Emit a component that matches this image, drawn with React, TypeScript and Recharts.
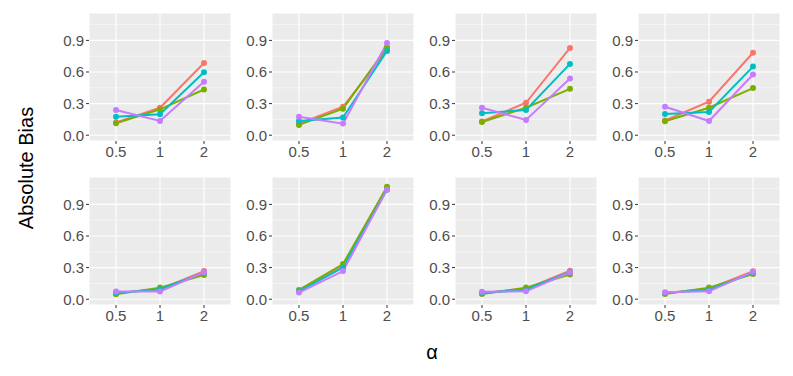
import { LineChart, Line, XAxis, YAxis, CartesianGrid, ReferenceLine } from 'recharts'

const ALPHAS = ['0.5', '1', '2']

// one row of three values (alpha = 0.5, 1, 2) per panel, panels left-to-right, top-to-bottom
const redVals = [
  [0.12, 0.26, 0.686],
  [0.11, 0.27, 0.806],
  [0.13, 0.308, 0.828],
  [0.14, 0.318, 0.783],
  [0.06, 0.095, 0.267],
  [0.08, 0.32, 1.05],
  [0.06, 0.1, 0.27],
  [0.06, 0.1, 0.265],
]
const greenVals = [
  [0.113, 0.245, 0.434],
  [0.098, 0.252, 0.834],
  [0.126, 0.261, 0.44],
  [0.132, 0.261, 0.447],
  [0.047, 0.11, 0.23],
  [0.088, 0.334, 1.067],
  [0.05, 0.11, 0.235],
  [0.05, 0.11, 0.24],
]
const cyanVals = [
  [0.176, 0.198, 0.598],
  [0.135, 0.167, 0.8],
  [0.208, 0.239, 0.677],
  [0.201, 0.22, 0.651],
  [0.06, 0.095, 0.25],
  [0.075, 0.3, 1.04],
  [0.06, 0.09, 0.26],
  [0.06, 0.09, 0.25],
]
const purpleVals = [
  [0.239, 0.135, 0.507],
  [0.176, 0.11, 0.875],
  [0.261, 0.145, 0.538],
  [0.27, 0.135, 0.576],
  [0.072, 0.072, 0.255],
  [0.063, 0.267, 1.04],
  [0.07, 0.075, 0.255],
  [0.065, 0.075, 0.26],
]

const SERIES = [
  { key: 'red', color: '#F8766D', vals: redVals },
  { key: 'green', color: '#7CAE00', vals: greenVals },
  { key: 'cyan', color: '#00BFC4', vals: cyanVals },
  { key: 'purple', color: '#C77CFF', vals: purpleVals },
]

const Y_TICKS = [0, 0.3, 0.6, 0.9]
const Y_MINOR = [0.15, 0.45, 0.75, 1.05]

const PLOT_LEFTS = [89, 272, 455, 638]
const ROW_TOPS = [13, 177]
const PLOT_W = 142
const PLOT_H = 128
const AXIS_W = 50
const AXIS_H = 30

function Panel({ idx }: { idx: number }) {
  const data = ALPHAS.map((a, j) => {
    const row: Record<string, string | number> = { alpha: a }
    SERIES.forEach(s => { row[s.key] = s.vals[idx][j] })
    return row
  })
  const col = idx % 4
  const r = Math.floor(idx / 4)
  return (
    <div style={{ position: 'absolute', left: PLOT_LEFTS[col] - AXIS_W, top: ROW_TOPS[r] }}>
      <LineChart
        width={AXIS_W + PLOT_W}
        height={PLOT_H + AXIS_H}
        data={data}
        margin={{ top: 0, right: 0, bottom: 0, left: 0 }}
      >
        <CartesianGrid fill="#EBEBEB" stroke="#FFFFFF" strokeWidth={1.1} />
        {Y_MINOR.map(v => (
          <ReferenceLine key={v} y={v} stroke="#FFFFFF" strokeWidth={0.5} />
        ))}
        <XAxis
          dataKey="alpha"
          padding={{ left: 27, right: 27 }}
          interval={0}
          height={AXIS_H}
          axisLine={false}
          tickSize={3}
          tickMargin={2}
          tickLine={{ stroke: '#333333' }}
          tick={{ fill: '#4D4D4D', fontSize: 15 }}
        />
        <YAxis
          domain={[-0.055, 1.16]}
          ticks={Y_TICKS}
          allowDataOverflow
          width={AXIS_W}
          axisLine={false}
          tickSize={3}
          tickMargin={2}
          tickLine={{ stroke: '#333333' }}
          tick={{ fill: '#4D4D4D', fontSize: 15 }}
          tickFormatter={(v: number) => v.toFixed(1)}
        />
        {SERIES.map(s => (
          <Line
            key={s.key}
            dataKey={s.key}
            type="linear"
            stroke={s.color}
            strokeWidth={2}
            dot={{ r: 3, fill: s.color, stroke: s.color, strokeWidth: 0 }}
            activeDot={false}
            isAnimationActive={false}
          />
        ))}
      </LineChart>
    </div>
  )
}

export default function App() {
  return (
    <div
      style={{
        position: 'fixed',
        left: 0,
        top: 0,
        width: 793,
        height: 376,
        background: '#FFFFFF',
        fontFamily: '"Liberation Sans", Arial, sans-serif',
      }}
    >
      {Array.from({ length: 8 }, (_, i) => (
        <Panel key={i} idx={i} />
      ))}
      <div
        style={{
          position: 'absolute',
          left: 26,
          top: 168,
          transform: 'translate(-50%, -50%) rotate(-90deg)',
          fontSize: 20,
          color: '#000',
          whiteSpace: 'nowrap',
        }}
      >
        Absolute Bias
      </div>
      <div
        style={{
          position: 'absolute',
          left: 432,
          top: 352,
          transform: 'translate(-50%, -50%)',
          fontSize: 20,
          color: '#000',
        }}
      >
        α
      </div>
    </div>
  )
}
